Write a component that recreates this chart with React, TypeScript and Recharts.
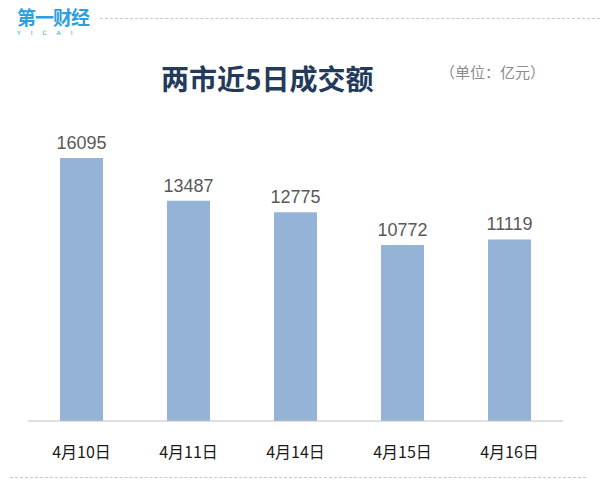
import React from "react";
import { BarChart, Bar, XAxis, YAxis, LabelList } from "recharts";

const dates = ["4月10日", "4月11日", "4月14日", "4月15日", "4月16日"];
const turnover = [16095, 13487, 12775, 10772, 11119];

const data = dates.map((d, i) => ({ name: d, value: turnover[i] }));

export default function App() {
  return (
    <div
      style={{
        position: "absolute",
        left: 0,
        top: 0,
        width: 612,
        height: 497,
        background: "#fff",
        fontFamily: "'Noto Sans CJK SC', sans-serif",
      }}
    >
      {/* logo */}
      <div style={{ position: "absolute", left: 17, top: 7, color: "#2f9fdc" }}>
        <div style={{ fontSize: 19, fontWeight: 700, letterSpacing: -1, lineHeight: "20px" }}>第一财经</div>
        <div
          style={{
            fontSize: 6,
            lineHeight: "7px",
            letterSpacing: 10,
            marginTop: 2,
            fontFamily: "'DejaVu Sans', sans-serif",
          }}
        >
          YICAI
        </div>
      </div>
      <div
        style={{
          position: "absolute",
          left: 100,
          top: 18,
          width: 500,
          borderTop: "1px dashed #c8c8c8",
        }}
      />
      <div
        style={{
          position: "absolute",
          left: 161,
          top: 58,
          fontSize: 28,
          fontWeight: 700,
          color: "#243a5a",
          lineHeight: "40px",
        }}
      >
        两市近5日成交额
      </div>
      <div
        style={{
          position: "absolute",
          left: 440,
          top: 60,
          fontSize: 15,
          color: "#8c8c8c",
          lineHeight: "24px",
        }}
      >
        （单位：亿元）
      </div>
      <BarChart
        width={612}
        height={497}
        data={data}
        margin={{ top: 127, right: 49, left: 28, bottom: 26 }}
        barSize={43}
        style={{ position: "absolute", left: 0, top: 0 }}
      >
        <XAxis
          dataKey="name"
          height={50}
          tickLine={false}
          axisLine={{ stroke: "#bfbfbf" }}
          tick={{ fill: "#1a1a1a", fontSize: 16, fontFamily: "'Noto Sans CJK SC', sans-serif" }}
          dy={18}
        />
        <YAxis hide domain={[0, 18000]} />
        <Bar dataKey="value" fill="#95b3d7" isAnimationActive={false}>
          <LabelList
            dataKey="value"
            position="top"
            offset={9}
            fill="#595959"
            fontSize={18}
            fontFamily="'Liberation Sans', Arial, sans-serif"
          />
        </Bar>
      </BarChart>
      <div
        style={{
          position: "absolute",
          left: 10,
          top: 477,
          width: 576,
          borderTop: "1px dashed #c8c8c8",
        }}
      />
    </div>
  );
}
